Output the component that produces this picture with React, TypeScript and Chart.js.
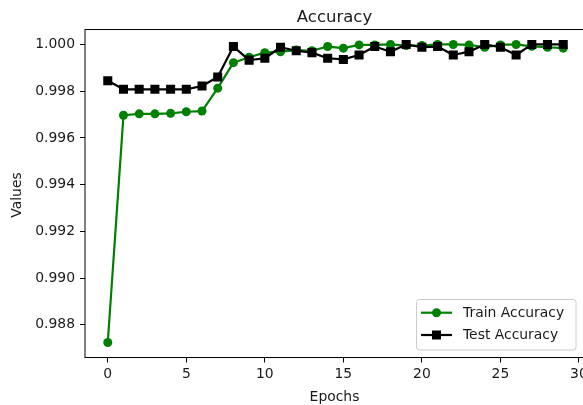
import React, { useEffect, useRef } from "react";
import { Chart, registerables } from "chart.js";

Chart.register(...registerables);

const epochs = [0, 1, 2, 3, 4, 5, 6, 7, 8, 9, 10, 11, 12, 13, 14, 15, 16, 17, 18, 19, 20, 21, 22, 23, 24, 25, 26, 27, 28, 29];
const trainAccuracy = [
  0.98724, 0.99697, 0.99703, 0.99703, 0.99705, 0.99712, 0.99715, 0.99813, 0.99922, 0.99945,
  0.99965, 0.99969, 0.99976, 0.99973, 0.99991, 0.99984, 0.99998, 0.99998, 1.0, 0.99995,
  0.99995, 1.0, 1.0, 0.99998, 0.99988, 0.99998, 1.0, 0.99992, 0.99988, 0.99984,
];
const testAccuracy = [
  0.99845, 0.99808, 0.99808, 0.99808, 0.99808, 0.99808, 0.99822, 0.99861, 0.99991, 0.99933,
  0.99941, 0.99988, 0.99973, 0.99965, 0.99941, 0.99936, 0.99955, 0.99991, 0.99969, 1.0,
  0.99988, 0.99991, 0.99955, 0.99969, 1.0, 0.99988, 0.99955, 1.0, 1.0, 1.0,
];
const xTicks = [0, 5, 10, 15, 20, 25, 30];
const yTicks = [0.988, 0.99, 0.992, 0.994, 0.996, 0.998, 1.0];
const titleText = "Accuracy";
const xLabel = "Epochs";
const yLabel = "Values";
const legendLabels = ["Train Accuracy", "Test Accuracy"];

const FONT = "DejaVu Sans";
const TEXT = "#1a1a1a";
const W = 600;
const H = 405;
const PLOT_LEFT = 85;
const PLOT_RIGHT = 586;
const PLOT_TOP = 29.5;
const PLOT_BOTTOM = 357.5;

const decorPlugin = {
  id: "decor",
  afterDraw(chart: any) {
    const ctx = chart.ctx;
    const a = chart.chartArea;
    ctx.save();
    ctx.strokeStyle = "#000";
    ctx.lineWidth = 1;
    ctx.strokeRect(a.left, a.top, a.right - a.left, a.bottom - a.top);
    ctx.fillStyle = TEXT;
    ctx.font = `16.5px "${FONT}"`;
    ctx.textAlign = "center";
    ctx.textBaseline = "alphabetic";
    ctx.fillText(titleText, 334.5, 21.5);
    ctx.font = `13.9px "${FONT}"`;
    ctx.fillText(xLabel, 334.5, 400.5);
    ctx.save();
    ctx.translate(20.5, 195);
    ctx.rotate(-Math.PI / 2);
    ctx.fillText(yLabel, 0, 0);
    ctx.restore();
    const bx = 416.5, by = 299.5, bw = 159.5, bh = 50.5;
    ctx.beginPath();
    (ctx as any).roundRect(bx, by, bw, bh, 3);
    ctx.fillStyle = "rgba(255,255,255,0.8)";
    ctx.fill();
    ctx.strokeStyle = "#cccccc";
    ctx.lineWidth = 1;
    ctx.stroke();
    const rows = [312.7, 335];
    const colors = ["#008000", "#000000"];
    for (let i = 0; i < 2; i++) {
      const y = rows[i];
      ctx.strokeStyle = colors[i];
      ctx.fillStyle = colors[i];
      ctx.lineWidth = 2.2;
      ctx.beginPath();
      ctx.moveTo(421, y);
      ctx.lineTo(452, y);
      ctx.stroke();
      if (i === 0) {
        ctx.beginPath();
        ctx.arc(436.5, y, 4.5, 0, Math.PI * 2);
        ctx.fill();
      } else {
        ctx.fillRect(436.5 - 4.5, y - 4.5, 9, 9);
      }
      ctx.fillStyle = TEXT;
      ctx.font = `13.9px "${FONT}"`;
      ctx.textAlign = "left";
      ctx.textBaseline = "middle";
      ctx.fillText(legendLabels[i], 463, y + 0.5);
    }
    ctx.restore();
  },
};

export default function App() {
  const ref = useRef<HTMLCanvasElement | null>(null);
  useEffect(() => {
    if (!ref.current) return;
    const chart = new Chart(ref.current, {
      type: "line",
      data: {
        datasets: [
          {
            label: legendLabels[0],
            data: epochs.map((e, i) => ({ x: e, y: trainAccuracy[i] })),
            borderColor: "#008000",
            backgroundColor: "#008000",
            borderWidth: 2.2,
            pointStyle: "circle",
            pointRadius: 4.5,
            pointBorderWidth: 0,
            borderJoinStyle: "round",
            tension: 0,
            order: 1,
          },
          {
            label: legendLabels[1],
            data: epochs.map((e, i) => ({ x: e, y: testAccuracy[i] })),
            borderColor: "#000000",
            backgroundColor: "#000000",
            borderWidth: 2.2,
            pointStyle: "rect",
            pointRadius: 6.4,
            pointBorderWidth: 0,
            borderJoinStyle: "round",
            tension: 0,
            order: 0,
          },
        ],
      },
      options: {
        responsive: false,
        animation: false,
        devicePixelRatio: 1,
        layout: { padding: { top: PLOT_TOP, right: W - PLOT_RIGHT, left: 0, bottom: 0 } },
        plugins: {
          legend: { display: false },
          title: { display: false },
          tooltip: { enabled: false },
        },
        scales: {
          x: {
            type: "linear",
            min: -1.45,
            max: 30.45,
            afterFit: (s: any) => {
              s.height = H - PLOT_BOTTOM;
            },
            afterBuildTicks: (s: any) => {
              s.ticks = xTicks.map((v) => ({ value: v }));
            },
            grid: {
              display: true,
              drawOnChartArea: false,
              drawTicks: true,
              tickLength: 5,
              color: "#000",
              lineWidth: 1,
            },
            border: { display: false },
            ticks: {
              color: TEXT,
              font: { family: FONT, size: 13.9 },
              padding: 4,
              maxRotation: 0,
              autoSkip: false,
              callback: (v: any) => String(v),
            },
          },
          y: {
            type: "linear",
            min: 0.9866,
            max: 1.00064,
            afterFit: (s: any) => {
              s.width = PLOT_LEFT;
            },
            afterBuildTicks: (s: any) => {
              s.ticks = yTicks.map((v) => ({ value: v }));
            },
            grid: {
              display: true,
              drawOnChartArea: false,
              drawTicks: true,
              tickLength: 5,
              color: "#000",
              lineWidth: 1,
            },
            border: { display: false },
            ticks: {
              color: TEXT,
              font: { family: FONT, size: 13.9 },
              padding: 5,
              autoSkip: false,
              callback: (v: any) => Number(v).toFixed(3),
            },
          },
        },
      },
      plugins: [decorPlugin],
    } as any);
    return () => chart.destroy();
  }, []);
  return (
    <div
      style={{
        position: "fixed",
        left: 0,
        top: 0,
        width: 583,
        height: 405,
        overflow: "hidden",
        background: "#fff",
      }}
    >
      <canvas ref={ref} width={W} height={H} style={{ width: W, height: H, display: "block" }} />
    </div>
  );
}
